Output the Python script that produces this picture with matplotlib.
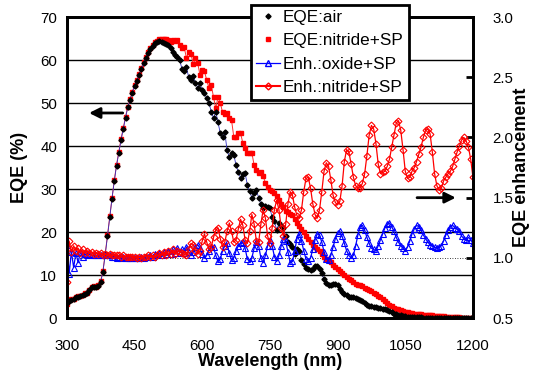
import numpy as np
import matplotlib
matplotlib.use("Agg")
import matplotlib.pyplot as plt
from matplotlib.lines import Line2D

plt.rcParams['font.family'] = ['Liberation Sans', 'DejaVu Sans']

wavelength = np.arange(300, 1201, 5)

eqe_air = [
    3.5, 4.0, 4.3, 4.5, 4.8, 5.0, 5.2, 5.4, 5.7, 5.9,
    6.5, 7.2, 7.3, 7.2, 7.5, 8.5, 10.8, 14.8, 19.0, 23.5,
    27.8, 31.8, 35.4, 38.4, 41.4, 44.0, 46.6, 49.0, 50.8, 52.4,
    54.0, 55.2, 56.6, 58.0, 59.3, 60.6, 61.7, 62.6, 63.3, 63.9,
    64.2, 64.4, 64.3, 64.0, 63.7, 63.4, 62.8, 62.0, 61.3, 60.8,
    60.0, 58.0, 57.5, 58.4, 56.0, 55.3, 56.3, 54.7, 53.6, 54.6,
    53.0, 52.3, 51.2, 50.0, 48.0, 46.5, 48.0, 45.5, 43.0, 42.0,
    43.3, 39.0, 37.5, 38.5, 38.0, 35.5, 34.0, 32.6, 33.5, 33.7,
    31.0, 29.5, 28.0, 29.0, 29.8, 28.0, 26.5, 25.6, 26.0, 25.8,
    25.5, 23.5, 22.5, 20.5, 22.0, 21.5, 21.0, 19.0, 17.7, 17.2,
    16.5, 15.0, 16.0, 15.5, 13.5, 12.5, 11.7, 11.3, 11.1, 11.4,
    12.0, 12.1, 11.5, 10.4, 9.0, 8.2, 7.8, 7.8, 7.9, 8.0,
    7.8, 6.8, 6.0, 5.6, 5.3, 5.0, 4.8, 4.8, 4.7, 4.5,
    4.3, 4.0, 3.4, 3.0, 2.8, 2.7, 2.6, 2.5, 2.4, 2.3,
    2.2, 2.1, 1.9, 1.6, 1.3, 1.0, 0.9, 0.7, 0.6, 0.5,
    0.4, 0.35, 0.3, 0.25, 0.2, 0.2, 0.15, 0.14, 0.13, 0.12,
    0.11, 0.1, 0.1, 0.09, 0.08, 0.08, 0.07, 0.07, 0.06, 0.06,
    0.05, 0.05, 0.05, 0.04, 0.04, 0.04, 0.03, 0.03, 0.03, 0.03,
    0.02,
]

eqe_nitride = [
    3.2, 4.2, 4.4, 4.5, 4.8, 5.1, 5.2, 5.4, 5.8, 5.9,
    6.5, 7.3, 7.4, 7.3, 7.6, 8.6, 11.0, 15.0, 19.3, 23.7,
    28.0, 32.0, 35.6, 38.6, 41.6, 44.2, 46.8, 49.2, 51.0, 52.6,
    54.2, 55.4, 56.8, 58.2, 59.5, 60.8, 61.9, 62.8, 63.5, 64.1,
    64.5, 64.8, 65.0, 65.0, 64.9, 64.6, 64.2, 64.6, 64.5, 64.6,
    63.5, 62.7, 63.0, 60.5, 61.9, 61.5, 59.0, 60.5, 59.3, 56.5,
    57.7, 57.4, 55.3, 53.5, 54.2, 51.4, 48.8, 51.4, 50.0, 47.9,
    47.5, 47.6, 46.5, 46.0, 42.1, 42.0, 43.0, 43.0, 40.7, 39.5,
    38.4, 38.4, 38.4, 35.6, 34.5, 33.7, 34.0, 33.0, 31.5, 30.5,
    29.8, 29.5, 29.1, 28.5, 27.4, 26.5, 25.8, 25.0, 24.6, 24.2,
    24.0, 23.0, 22.2, 21.5, 20.8, 20.0, 19.2, 18.5, 17.8, 17.0,
    16.5, 16.0, 15.5, 14.9, 14.3, 13.8, 13.5, 13.0, 12.4, 11.9,
    11.4, 10.9, 10.4, 9.9, 9.5, 9.2, 8.8, 8.4, 8.0, 7.8,
    7.6, 7.4, 7.1, 6.8, 6.5, 6.2, 5.9, 5.6, 5.2, 4.8,
    4.4, 4.0, 3.5, 3.0, 2.7, 2.4, 2.2, 2.0, 1.8, 1.6,
    1.4, 1.3, 1.2, 1.1, 1.0, 0.95, 0.9, 0.85, 0.8, 0.75,
    0.7, 0.65, 0.6, 0.55, 0.5, 0.45, 0.42, 0.38, 0.34, 0.3,
    0.27, 0.24, 0.2, 0.18, 0.15, 0.13, 0.1, 0.08, 0.06, 0.05,
    0.04,
]

enh_oxide = [
    1.11, 0.87, 1.05, 0.92, 1.04, 0.96, 1.05, 1.01, 1.03, 1.02,
    1.03, 1.02, 1.02, 1.02, 1.02, 1.02, 1.02, 1.02, 1.02, 1.02,
    1.01, 1.01, 1.00, 1.01, 1.00, 1.01, 1.00, 1.00, 1.00, 1.00,
    1.00, 1.00, 1.00, 1.01, 1.00, 1.01, 1.01, 1.02, 1.01, 1.03,
    1.02, 1.04, 1.02, 1.05, 1.03, 1.06, 1.03, 1.07, 1.04, 1.08,
    1.04, 1.07, 1.04, 1.09, 1.05, 1.02, 1.05, 1.09, 1.11, 1.08,
    1.03, 1.00, 1.02, 1.06, 1.09, 1.09, 1.02, 0.97, 0.99, 1.06,
    1.10, 1.12, 1.04, 0.98, 1.00, 1.06, 1.10, 1.12, 1.13, 1.08,
    0.99, 0.97, 1.00, 1.08, 1.13, 1.10, 1.00, 0.96, 1.02, 1.10,
    1.15, 1.10, 1.01, 0.97, 1.02, 1.10, 1.16, 1.14, 1.05, 0.96,
    0.97, 1.06, 1.16, 1.20, 1.14, 1.06, 0.99, 0.97, 1.00, 1.07,
    1.15, 1.20, 1.19, 1.13, 1.05, 0.99, 0.98, 1.02, 1.09, 1.16,
    1.21, 1.22, 1.18, 1.12, 1.06, 1.02, 1.00, 1.02, 1.10, 1.19,
    1.26, 1.27, 1.23, 1.17, 1.12, 1.08, 1.07, 1.06, 1.10, 1.15,
    1.20, 1.25, 1.28, 1.29, 1.26, 1.22, 1.17, 1.13, 1.10, 1.08,
    1.06, 1.09, 1.14, 1.20, 1.24, 1.27, 1.26, 1.23, 1.19, 1.16,
    1.13, 1.11, 1.10, 1.09, 1.08, 1.09, 1.10, 1.14, 1.19, 1.23,
    1.26, 1.27, 1.25, 1.24, 1.22, 1.18, 1.16, 1.15, 1.17, 1.15,
    1.12,
]

enh_nitride = [
    0.80, 1.14, 1.05, 1.10, 1.06, 1.08, 1.04, 1.07, 1.04, 1.06,
    1.04, 1.05, 1.03, 1.04, 1.03, 1.04, 1.02, 1.03, 1.02, 1.03,
    1.02, 1.02, 1.02, 1.02, 1.01, 1.02, 1.01, 1.01, 1.01, 1.01,
    1.01, 1.00, 1.01, 1.00, 1.01, 1.01, 1.02, 1.01, 1.02, 1.01,
    1.02, 1.04, 1.02, 1.05, 1.02, 1.06, 1.03, 1.07, 1.03, 1.06,
    1.05, 1.04, 1.03, 1.02, 1.07, 1.12, 1.11, 1.06, 1.03, 1.06,
    1.14, 1.20, 1.13, 1.07, 1.09, 1.17, 1.23, 1.25, 1.16, 1.09,
    1.13, 1.22, 1.29, 1.22, 1.13, 1.15, 1.24, 1.32, 1.27, 1.15,
    1.12, 1.22, 1.36, 1.28, 1.14, 1.13, 1.28, 1.40, 1.33, 1.18,
    1.12, 1.25, 1.40, 1.48, 1.40, 1.25, 1.18, 1.28, 1.45, 1.55,
    1.52, 1.42, 1.35, 1.33, 1.40, 1.55, 1.66, 1.67, 1.58, 1.45,
    1.36, 1.33, 1.40, 1.55, 1.72, 1.79, 1.76, 1.65, 1.52, 1.46,
    1.44, 1.47, 1.60, 1.80, 1.90, 1.88, 1.78, 1.67, 1.60, 1.58,
    1.58, 1.62, 1.70, 1.85, 2.02, 2.10, 2.07, 1.95, 1.78, 1.70,
    1.71, 1.72, 1.76, 1.82, 1.92, 2.02, 2.12, 2.14, 2.06, 1.90,
    1.72, 1.66, 1.67, 1.72, 1.75, 1.80, 1.86, 1.92, 2.00, 2.06,
    2.07, 2.03, 1.88, 1.70, 1.60, 1.56, 1.58, 1.64, 1.67, 1.70,
    1.72, 1.76, 1.82, 1.88, 1.93, 1.98, 2.00, 1.97, 1.92, 1.82,
    1.67,
]

labels = ["EQE:air", "EQE:nitride+SP", "Enh.:oxide+SP", "Enh.:nitride+SP"]
xticks = [300, 450, 600, 750, 900, 1050, 1200]
yticks_left = [0, 10, 20, 30, 40, 50, 60, 70]
yticks_right = [0.5, 1.0, 1.5, 2.0, 2.5, 3.0]

fig = plt.figure(figsize=(5.35, 3.72), dpi=100)
ax = fig.add_axes([0.125, 0.145, 0.759, 0.809])
ax2 = ax.twinx()

# EQE curves (left axis)
ax.plot(wavelength, eqe_nitride, color='#ff3030', lw=0.7, marker='s', ms=3.0,
        mfc='#ff0000', mec='#ff0000', zorder=3)
ax.plot(wavelength, eqe_air, color='#3030c0', lw=0.6, marker='D', ms=2.6,
        mfc='black', mec='black', zorder=4)

ax.set_xlim(300, 1200)
ax.set_ylim(0, 70)
ax.set_xticks(xticks)
ax.set_yticks(yticks_left)
for v in [10, 20, 30, 40, 50, 60]:
    ax.axhline(v, color='black', lw=1.0, zorder=1)
ax.axhline(14, color='black', lw=0.6, ls=(0, (1, 2)), zorder=1)

# Enhancement curves (right axis)
ax2.plot(wavelength, enh_oxide, color='#0000ff', lw=0.9, marker='^', ms=4,
         mfc='none', mec='#0000ff', mew=0.8)
ax2.plot(wavelength, enh_nitride, color='#ff0000', lw=0.9, marker='D', ms=3.5,
         mfc='none', mec='#ff0000', mew=0.8)
ax2.set_ylim(0.5, 3.0)
ax2.set_yticks(yticks_right)
ax2.set_yticklabels([f"{v:.1f}" for v in yticks_right])

for a in (ax, ax2):
    for s in a.spines.values():
        s.set_linewidth(2.0)
        s.set_color('black')

ax.tick_params(axis='both', length=0, labelsize=10.8, pad=7)
ax.tick_params(axis='x', pad=15)
ax2.tick_params(axis='y', direction='in', length=5, width=2, labelsize=10.8, pad=14)

ax.set_xlabel("Wavelength (nm)", fontsize=13, fontweight='bold', labelpad=0)
ax.set_ylabel("EQE (%)", fontsize=13, fontweight='bold', labelpad=9)
ax2.set_ylabel("EQE enhancement", fontsize=13, fontweight='bold', labelpad=0)

# Arrows
ax.annotate("", xy=(343, 47.7), xytext=(430, 47.7),
            arrowprops=dict(arrowstyle='-|>', color='black', lw=2, mutation_scale=16))
ax.annotate("", xy=(1168, 28), xytext=(1070, 28),
            arrowprops=dict(arrowstyle='-|>', color='black', lw=2, mutation_scale=16))

handles = [
    Line2D([], [], ls='none', marker='D', ms=2.6, mfc='black', mec='black'),
    Line2D([], [], ls='none', marker='s', ms=3.0, mfc='#ff0000', mec='#ff0000'),
    Line2D([], [], color='#0000ff', lw=0.9, marker='^', ms=4, mfc='none', mec='#0000ff'),
    Line2D([], [], color='#ff0000', lw=1.5, marker='D', ms=3.5, mfc='none', mec='#ff0000'),
]
leg = fig.legend(handles, labels, loc='upper left', bbox_to_anchor=(0.469, 0.987),
                 fontsize=12.3, frameon=True, fancybox=False, framealpha=1,
                 edgecolor='black', handlelength=1.45, handletextpad=0.15,
                 borderpad=0.28, labelspacing=0.5, borderaxespad=0)
leg.get_frame().set_linewidth(2.0)

fig.savefig("out.png", dpi=100)
